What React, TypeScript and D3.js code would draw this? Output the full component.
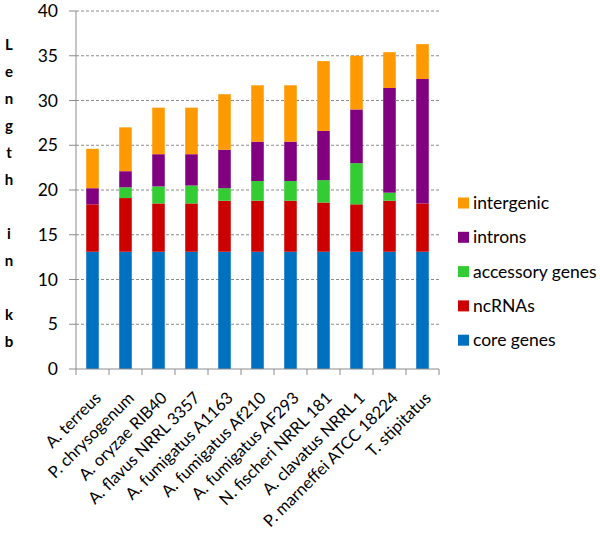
import React from "react";
import * as d3 from "d3";

const categories = [
  "A. terreus", "P. chrysogenum", "A. oryzae RIB40", "A. flavus NRRL 3357",
  "A. fumigatus A1163", "A. fumigatus Af210", "A. fumigatus AF293",
  "N. fischeri NRRL 181", "A. clavatus NRRL 1", "P. marneffei ATCC 18224", "T. stipitatus",
];
const coreGenes = [13.1, 13.1, 13.1, 13.1, 13.1, 13.1, 13.1, 13.1, 13.1, 13.1, 13.1];
const ncRNAs = [5.3, 6.0, 5.4, 5.4, 5.7, 5.7, 5.7, 5.5, 5.3, 5.7, 5.4];
const accessoryGenes = [0.0, 1.2, 1.9, 2.0, 1.4, 2.2, 2.2, 2.5, 4.6, 0.9, 0.0];
const introns = [1.8, 1.8, 3.6, 3.5, 4.3, 4.4, 4.4, 5.5, 6.0, 11.7, 13.9];
const intergenic = [4.4, 4.9, 5.2, 5.2, 6.2, 6.3, 6.3, 7.8, 6.0, 4.0, 3.9];

const seriesNames = ["core genes", "ncRNAs", "accessory genes", "introns", "intergenic"];
const seriesColors = ["#0070C0", "#CC0000", "#33CC33", "#800080", "#FF9900"];
const yTicks = [0, 5, 10, 15, 20, 25, 30, 35, 40];
const yTitle = ["L", "e", "n", "g", "t", "h", "", "i", "n", "", "k", "b"];

export default function App() {
  const W = 600, H = 539;
  const left = 76, right = 439, top = 11, bottom = 369;
  const font = "Lato, 'Liberation Sans', sans-serif";
  const x = d3.scaleBand<string>().domain(categories).range([left, right]).paddingInner(0.62).paddingOuter(0.31);
  const xb = d3.scaleBand<string>().domain(categories).range([left, right]);
  const y = d3.scaleLinear().domain([0, 40]).range([bottom, top]);
  const rows = categories.map((c, i) => ({
    cat: c,
    "core genes": coreGenes[i],
    ncRNAs: ncRNAs[i],
    "accessory genes": accessoryGenes[i],
    introns: introns[i],
    intergenic: intergenic[i],
  }));
  const stack = d3.stack<any>().keys(seriesNames)(rows);
  const legendOrder = [4, 3, 2, 1, 0];
  return (
    <svg width={W} height={H} style={{ position: "absolute", left: 0, top: 0, background: "#fff" }} fontFamily={font}>
      <rect width={W} height={H} fill="#fff" />
      {yTicks.filter((t) => t > 0).map((t) => (
        <line key={t} x1={left} x2={right} y1={y(t)} y2={y(t)} stroke="#8c8c8c" strokeWidth={1} strokeDasharray="3,2" />
      ))}
      {stack.map((s, si) =>
        s.map((d, i) => (
          <rect key={si + "-" + i} x={x(categories[i])} width={x.bandwidth()} y={y(d[1])} height={Math.max(0, y(d[0]) - y(d[1]))} fill={seriesColors[si]} />
        ))
      )}
      <line x1={left} x2={left} y1={top} y2={bottom} stroke="#8c8c8c" />
      <line x1={left} x2={right} y1={bottom} y2={bottom} stroke="#8c8c8c" />
      {yTicks.map((t) => (
        <g key={t}>
          <line x1={left - 7} x2={left} y1={y(t)} y2={y(t)} stroke="#8c8c8c" />
          <text x={left - 18} y={y(t)} dy="0.35em" textAnchor="end" fontSize={17.5} fill="#000">{t}</text>
        </g>
      ))}
      {categories.map((c, i) => (
        <line key={c} x1={xb(c)!} x2={xb(c)!} y1={bottom} y2={bottom + 6} stroke="#8c8c8c" />
      ))}
      <line x1={right} x2={right} y1={bottom} y2={bottom + 6} stroke="#8c8c8c" />
      {categories.map((c) => {
        const cx = xb(c)! + xb.bandwidth() / 2 + 5.5;
        return (
          <text key={c} transform={`translate(${cx},${bottom + 26}) rotate(-45)`} textAnchor="end" dy="0.35em" fontSize={16.5} fill="#000">{c}</text>
        );
      })}
      {yTitle.map((ch, i) => (
        <text key={i} x={9} y={45 + i * 27} dy="0.35em" textAnchor="middle" fontSize={15} fontWeight="bold" fill="#000">{ch}</text>
      ))}
      {legendOrder.map((si, k) => {
        const cy = 203 + k * 34.3;
        return (
          <g key={si}>
            <rect x={458} y={cy - 5.5} width={11} height={11} fill={seriesColors[si]} />
            <text x={473} y={cy} dy="0.35em" fontSize={17.5} fill="#000">{seriesNames[si]}</text>
          </g>
        );
      })}
    </svg>
  );
}
